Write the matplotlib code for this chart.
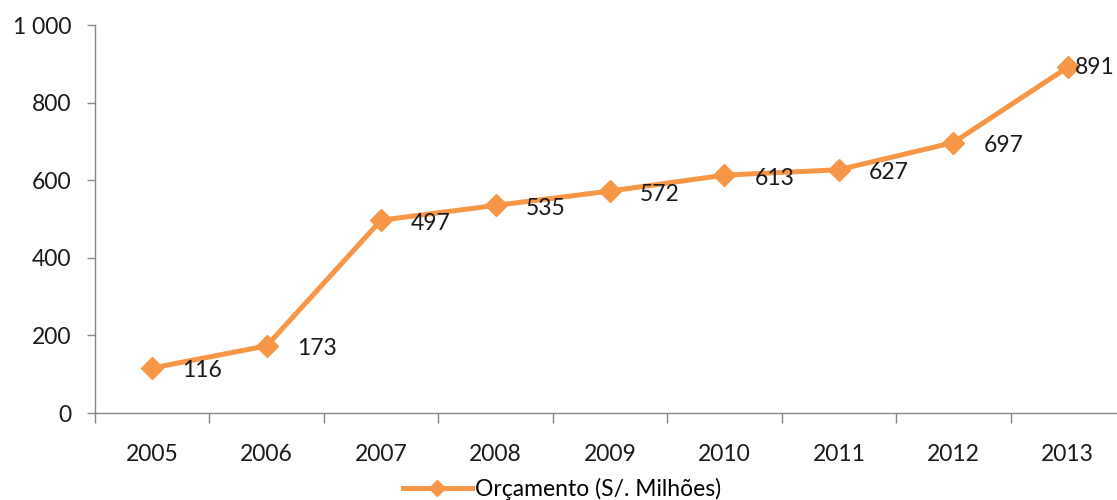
import matplotlib.pyplot as plt
import numpy as np

years = ["2005", "2006", "2007", "2008", "2009", "2010", "2011", "2012", "2013"]
budget = [116, 173, 497, 535, 572, 613, 627, 697, 891]
y_ticks = [0, 200, 400, 600, 800, 1000]
y_tick_labels = ["0", "200", "400", "600", "800", "1 000"]

orange = "#F79646"
plt.rcParams['font.family'] = ['Lato', 'DejaVu Sans']
fs = 16.5

fig = plt.figure(figsize=(11.17, 5.0), dpi=100)
W, H = 1117, 500
ax = fig.add_axes([95 / W, 1 - 413 / H, (1125 - 95) / W, (413 - 25) / H])

x = np.arange(len(years))
ax.plot(x, budget, color=orange, lw=3.6, marker="D", markersize=11,
        label="Orçamento (S/. Milhões)", clip_on=False, zorder=3)

for i, v in enumerate(budget):
    dx = 7 if i == len(budget) - 1 else 30
    dy = 0 if i == len(budget) - 1 else -3
    ax.annotate(str(v), (i, v), xytext=(dx * 0.72, dy * 0.72), textcoords="offset points",
                ha="left", va="center", fontsize=fs, color="#1a1a1a")

ax.set_xlim(-0.5, len(years) - 0.5)
ax.set_ylim(0, 1000)
ax.set_yticks(y_ticks)
ax.set_yticklabels(y_tick_labels, fontsize=fs, color="#1a1a1a")
ax.set_xticks(x)
ax.set_xticklabels(years, fontsize=fs, color="#1a1a1a")
ax.tick_params(axis="x", length=0, pad=22)
ax.set_xticks(np.arange(-0.5, len(years), 1.0), minor=True)
ax.tick_params(axis="x", which="minor", length=7, color="#868686", width=1)
ax.tick_params(axis="y", length=6, color="#868686", width=1, pad=11)

for s in ["top", "right"]:
    ax.spines[s].set_visible(False)
for s in ["left", "bottom"]:
    ax.spines[s].set_color("#868686")
    ax.spines[s].set_linewidth(1)

fig.legend(loc="center", bbox_to_anchor=(562 / W, 1 - 489 / H), frameon=False,
           fontsize=fs, handlelength=3.0, handletextpad=0.15, borderpad=0, markerscale=0.75)

fig.savefig("out.png", dpi=100)
